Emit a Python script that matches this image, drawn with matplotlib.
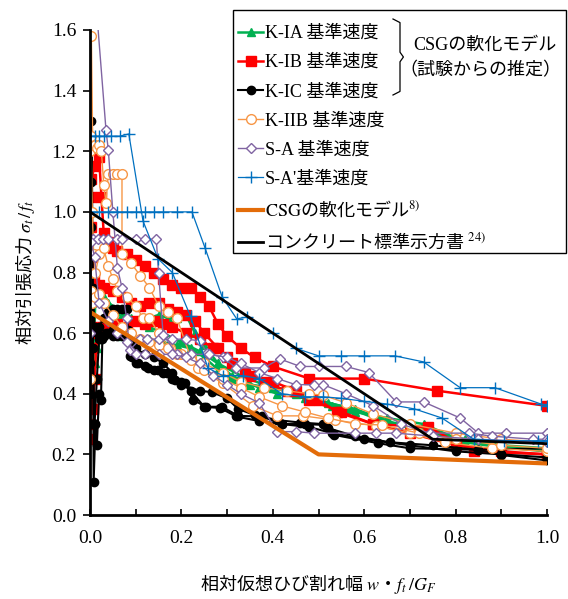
import matplotlib
matplotlib.use("Agg")
import matplotlib.pyplot as plt
from matplotlib.lines import Line2D
from matplotlib.patches import Rectangle
from matplotlib.ticker import MultipleLocator, FormatStrFormatter

plt.rcParams['font.family'] = ['Liberation Serif', 'Noto Sans CJK JP']
plt.rcParams['mathtext.fontset'] = 'stix'
JP = 'Noto Sans CJK JP'

# ---- 試験結果（相対仮想ひび割れ幅, 相対引張応力） ----
kia_x = [
    [0, 0.002, 0.004, 0.006, 0.01, 0.02, 0.03, 0.05, 0.07, 0.09, 0.11, 0.13, 0.15, 0.17, 0.19, 0.21,
     0.23, 0.25, 0.28, 0.31, 0.34, 0.37, 0.41, 0.47, 0.53, 0.58, 0.65, 0.73, 0.82, 0.89, 1.0],
    [0, 0.003, 0.006, 0.01, 0.015, 0.02, 0.03, 0.05, 0.07, 0.09, 0.11, 0.13, 0.16, 0.19, 0.22, 0.25,
     0.28, 0.31, 0.35, 0.40, 0.45, 0.52, 0.58, 0.65, 0.73, 0.82, 0.90, 1.0],
    [0, 0.002, 0.005, 0.008, 0.012, 0.02, 0.03, 0.04, 0.06, 0.08, 0.10, 0.13, 0.16, 0.20, 0.24, 0.28,
     0.33, 0.38, 0.44, 0.50, 0.57, 0.64, 0.72, 0.80, 0.90, 1.0],
]
kia_y = [
    [0.25, 1.25, 0.95, 0.60, 0.57, 0.62, 0.64, 0.66, 0.66, 0.65, 0.65, 0.65, 0.66, 0.65, 0.65, 0.66,
     0.60, 0.56, 0.50, 0.46, 0.44, 0.42, 0.40, 0.385, 0.36, 0.34, 0.32, 0.30, 0.24, 0.225, 0.21],
    [0.30, 0.85, 0.60, 0.50, 0.55, 0.58, 0.60, 0.60, 0.59, 0.58, 0.58, 0.58, 0.57, 0.56, 0.55, 0.52,
     0.48, 0.45, 0.43, 0.42, 0.40, 0.37, 0.35, 0.31, 0.28, 0.25, 0.23, 0.22],
    [0.35, 1.00, 0.75, 0.55, 0.72, 0.74, 0.72, 0.70, 0.68, 0.66, 0.64, 0.62, 0.60, 0.57, 0.54, 0.50,
     0.46, 0.43, 0.41, 0.38, 0.35, 0.31, 0.28, 0.25, 0.23, 0.21],
]

kib_x = [
    [0, 0.003, 0.01, 0.02, 0.025, 0.03, 0.04, 0.05, 0.06, 0.08, 0.10, 0.12, 0.14, 0.16, 0.18, 0.20,
     0.22, 0.24, 0.26, 0.28, 0.30, 0.33, 0.36, 0.40, 0.48, 0.60, 0.76, 1.0],
    [0, 0.002, 0.005, 0.008, 0.012, 0.02, 0.03, 0.05, 0.07, 0.09, 0.11, 0.13, 0.15, 0.17, 0.19, 0.21,
     0.23, 0.25, 0.28, 0.31, 0.35, 0.40, 0.45, 0.50, 0.54, 0.62, 0.74, 0.84, 1.0],
    [0, 0.002, 0.004, 0.006, 0.01, 0.015, 0.02, 0.03, 0.04, 0.06, 0.08, 0.10, 0.12, 0.14, 0.16, 0.18,
     0.21, 0.24, 0.27, 0.30, 0.34, 0.38, 0.43, 0.48, 0.55, 0.62, 0.70, 0.80, 0.90, 1.0],
]
kib_y = [
    [0.45, 1.11, 1.15, 1.18, 1.05, 0.93, 0.90, 0.88, 0.87, 0.86, 0.84, 0.82, 0.80, 0.78, 0.76, 0.75,
     0.75, 0.72, 0.69, 0.63, 0.59, 0.55, 0.52, 0.49, 0.45, 0.45, 0.41, 0.36],
    [0.30, 1.05, 0.85, 0.78, 0.74, 0.76, 0.75, 0.74, 0.72, 0.70, 0.69, 0.70, 0.70, 0.68, 0.67, 0.66,
     0.64, 0.60, 0.55, 0.50, 0.46, 0.44, 0.41, 0.38, 0.34, 0.30, 0.29, 0.21, 0.20],
    [0.25, 0.95, 0.55, 0.35, 0.45, 0.60, 0.62, 0.62, 0.63, 0.63, 0.62, 0.64, 0.63, 0.64, 0.63, 0.62,
     0.60, 0.58, 0.55, 0.52, 0.47, 0.44, 0.41, 0.38, 0.34, 0.30, 0.27, 0.23, 0.21, 0.20],
]

kic_x = [
    [0, 0.002, 0.004, 0.006, 0.008, 0.012, 0.015, 0.02, 0.024, 0.027, 0.035, 0.05, 0.07, 0.085, 0.092,
     0.105, 0.127, 0.149, 0.168, 0.186, 0.208, 0.225, 0.254, 0.289, 0.324, 0.376, 0.42, 0.47, 0.514,
     0.535, 0.63, 0.70, 0.85, 0.90, 1.0],
    [0, 0.003, 0.006, 0.01, 0.015, 0.02, 0.03, 0.04, 0.05, 0.06, 0.07, 0.08, 0.083, 0.087, 0.10, 0.12,
     0.14, 0.16, 0.18, 0.20, 0.24, 0.267, 0.30, 0.324, 0.36, 0.41, 0.46, 0.51, 0.52, 0.58, 0.656, 0.75,
     0.85, 1.0],
    [0, 0.003, 0.006, 0.01, 0.015, 0.02, 0.03, 0.04, 0.05, 0.06, 0.07, 0.08, 0.09, 0.10, 0.12, 0.14,
     0.16, 0.18, 0.20, 0.22, 0.25, 0.285, 0.32, 0.37, 0.42, 0.48, 0.53, 0.60, 0.70, 0.80, 0.90, 1.0],
]
kic_y = [
    [0.50, 1.30, 1.22, 0.70, 0.11, 0.30, 0.23, 0.40, 0.38, 0.58, 0.60, 0.61, 0.60, 0.58, 0.52,
     0.50, 0.485, 0.48, 0.47, 0.445, 0.436, 0.38, 0.357, 0.357, 0.327, 0.325, 0.30, 0.30, 0.297,
     0.264, 0.237, 0.22, 0.215, 0.198, 0.18],
    [0.40, 1.10, 0.75, 0.62, 0.60, 0.62, 0.65, 0.67, 0.68, 0.68, 0.68, 0.68, 0.61, 0.525, 0.50, 0.49,
     0.48, 0.47, 0.45, 0.43, 0.41, 0.405, 0.385, 0.35, 0.33, 0.313, 0.305, 0.30, 0.287, 0.26, 0.24, 0.23,
     0.215, 0.22],
    [0.30, 0.95, 0.55, 0.30, 0.45, 0.58, 0.59, 0.60, 0.59, 0.59, 0.59, 0.58, 0.57, 0.55, 0.53, 0.52,
     0.50, 0.47, 0.44, 0.41, 0.357, 0.353, 0.325, 0.31, 0.30, 0.29, 0.27, 0.25, 0.23, 0.21, 0.20, 0.19],
]

kiib_x = [
    [0, 0.003, 0.006, 0.01, 0.015, 0.02, 0.025, 0.03, 0.035, 0.04, 0.05, 0.06, 0.07, 0.07, 0.09, 0.11,
     0.13, 0.15, 0.17, 0.19, 0.22, 0.236, 0.29, 0.357, 0.41, 0.466, 0.536, 0.626, 0.70, 0.777, 0.88, 1.0],
    [0, 0.002, 0.005, 0.008, 0.012, 0.02, 0.03, 0.04, 0.05, 0.06, 0.08, 0.10, 0.116, 0.13, 0.15, 0.175,
     0.20, 0.22, 0.25, 0.29, 0.33, 0.38, 0.43, 0.48, 0.51, 0.56, 0.62, 0.70, 0.80, 0.90, 1.0],
    [0, 0.002, 0.005, 0.01, 0.02, 0.03, 0.05, 0.07, 0.09, 0.11, 0.13, 0.15, 0.17, 0.19, 0.22, 0.25,
     0.29, 0.33, 0.37, 0.42, 0.47, 0.52, 0.58, 0.64, 0.72, 0.80, 0.90, 1.0],
]
kiib_y = [
    [1.20, 1.58, 1.22, 1.22, 1.21, 1.22, 1.20, 1.09, 1.03, 1.125, 1.125, 1.125, 1.125, 0.86, 0.83, 0.79,
     0.75, 0.69, 0.67, 0.65, 0.52, 0.485, 0.435, 0.36, 0.327, 0.327, 0.313, 0.294, 0.27, 0.24, 0.22, 0.21],
    [0.80, 1.25, 1.00, 0.86, 0.80, 0.86, 0.88, 0.82, 0.78, 0.74, 0.72, 0.69, 0.65, 0.65, 0.60, 0.55,
     0.53, 0.52, 0.50, 0.47, 0.44, 0.42, 0.41, 0.40, 0.395, 0.37, 0.333, 0.30, 0.27, 0.25, 0.24],
    [0.45, 0.74, 0.70, 0.72, 0.73, 0.70, 0.66, 0.62, 0.60, 0.58, 0.57, 0.56, 0.55, 0.53, 0.51, 0.48,
     0.45, 0.42, 0.39, 0.36, 0.34, 0.32, 0.30, 0.297, 0.27, 0.25, 0.23, 0.22],
]

sa_x = [
    [0.010, 0.035, 0.04, 0.05, 0.06, 0.07, 0.08, 0.087, 0.11, 0.125, 0.15, 0.18, 0.21, 0.24, 0.256,
     0.29, 0.32, 0.38, 0.415, 0.46, 0.50, 0.56, 0.61, 0.67, 0.73, 0.81, 0.85, 0.91, 1.0],
    [0, 0.007, 0.018, 0.028, 0.04, 0.06, 0.07, 0.10, 0.12, 0.145, 0.15, 0.16, 0.19, 0.22, 0.26, 0.30,
     0.33, 0.37, 0.41, 0.45, 0.49, 0.51, 0.56, 0.62, 0.68, 0.744, 0.83, 0.88, 0.97, 1.0],
    [0, 0.003, 0.01, 0.02, 0.04, 0.06, 0.08, 0.10, 0.12, 0.15, 0.18, 0.21, 0.24, 0.27, 0.30, 0.33,
     0.37, 0.41, 0.45, 0.49, 0.58, 0.626, 0.67, 0.75, 0.85, 1.0],
]
sa_y = [
    [1.75, 1.27, 1.205, 1.00, 0.815, 0.75, 0.65, 0.545, 0.58, 0.58, 0.58, 0.58, 0.58, 0.575, 0.535,
     0.52, 0.485, 0.485, 0.515, 0.49, 0.49, 0.49, 0.47, 0.373, 0.373, 0.32, 0.27, 0.27, 0.27],
    [0.91, 0.91, 0.91, 0.91, 0.91, 0.91, 0.91, 0.91, 0.91, 0.91, 0.80, 0.595, 0.53, 0.53, 0.53, 0.52,
     0.50, 0.47, 0.45, 0.43, 0.43, 0.43, 0.40, 0.36, 0.30, 0.27, 0.27, 0.26, 0.25, 0.25],
    [0.60, 0.90, 0.85, 0.70, 0.64, 0.60, 0.57, 0.53, 0.53, 0.53, 0.53, 0.52, 0.50, 0.46, 0.43, 0.40,
     0.37, 0.275, 0.275, 0.27, 0.27, 0.27, 0.27, 0.26, 0.25, 0.24],
]

sa2_x = [
    [0, 0.02, 0.04, 0.06, 0.08, 0.10, 0.12, 0.14, 0.16, 0.19, 0.223, 0.252, 0.289, 0.321, 0.343, 0.40,
     0.45, 0.50, 0.55, 0.60, 0.667, 0.73, 0.81, 0.886, 0.987, 1.0],
    [0, 0.01, 0.02, 0.03, 0.045, 0.065, 0.085, 0.116, 0.149, 0.18, 0.22, 0.258, 0.29, 0.335, 0.37, 0.42,
     0.47, 0.51, 0.55, 0.60, 0.65, 0.71, 0.77, 0.84, 0.906, 0.98, 1.0],
]
sa2_y = [
    [1.0, 1.0, 1.0, 1.0, 1.0, 1.0, 1.0, 1.0, 1.0, 1.0, 1.0, 0.88, 0.72, 0.647, 0.653, 0.60,
     0.55, 0.525, 0.525, 0.525, 0.525, 0.505, 0.42, 0.42, 0.366, 0.36],
    [1.25, 1.25, 1.25, 1.25, 1.25, 1.25, 1.257, 0.97, 0.845, 0.80, 0.655, 0.485, 0.46, 0.46, 0.45, 0.40,
     0.39, 0.39, 0.385, 0.375, 0.366, 0.35, 0.32, 0.25, 0.245, 0.245, 0.245],
]

# ---- 軟化モデル ----
csg_x = [0.0, 0.5, 1.0]
csg_y = [0.67, 0.20, 0.17]
jsce_x = [0.0, 0.75, 5.0]
jsce_y = [1.0, 0.25, 0.0]

fig = plt.figure(figsize=(5.68, 5.99), dpi=100)
ax = fig.add_axes([90 / 568, 84 / 599, 457 / 568, 485 / 599])

styles = [
    (kia_x, kia_y, dict(color='#00B050', marker='^', ms=6, lw=1.8, mfc='#00B050', mec='#00B050'),
     'K-IA 基準速度'),
    (kib_x, kib_y, dict(color='#FF0000', marker='s', ms=7, lw=1.8, mfc='#FF0000', mec='#FF0000'),
     'K-IB 基準速度'),
    (kic_x, kic_y, dict(color='black', marker='o', ms=6, lw=1.5, mfc='black', mec='black'),
     'K-IC 基準速度'),
    (kiib_x, kiib_y, dict(color='#F79646', marker='o', ms=7, lw=1.0, mfc='white', mec='#F79646',
                         mew=1.0), 'K-IIB 基準速度'),
    (sa_x, sa_y, dict(color='#8064A2', marker='D', ms=5.5, lw=1.0, mfc='white', mec='#8064A2', mew=1.0),
     'S-A 基準速度'),
    (sa2_x, sa2_y, dict(color='#0070C0', marker='+', ms=8, lw=0.9, mew=1.0), "S-A'基準速度"),
]

handles = []
labels = []
for xs, ys, kw, lab in styles:
    for x, y in zip(xs, ys):
        ax.plot(x, y, **kw)
    handles.append(Line2D([], [], **kw))
    labels.append(lab)

ax.plot(csg_x, csg_y, color='#E36C09', lw=3.0)
ax.plot(jsce_x, jsce_y, color='black', lw=2.0)
handles.append(Line2D([], [], color='#E36C09', lw=3.0))
labels.append('$\\mathrm{CSG}$の軟化モデル$^{8)}$')
handles.append(Line2D([], [], color='black', lw=2.0))
labels.append('コンクリート標準示方書 $^{24)}$')

ax.set_xlim(0, 1.0)
ax.set_ylim(0, 1.6)
ax.xaxis.set_major_locator(MultipleLocator(0.2))
ax.xaxis.set_minor_locator(MultipleLocator(0.1))
ax.yaxis.set_major_locator(MultipleLocator(0.2))
ax.xaxis.set_major_formatter(FormatStrFormatter('%.1f'))
ax.yaxis.set_major_formatter(FormatStrFormatter('%.1f'))
ax.tick_params(axis='x', which='both', direction='in', length=4, width=1.2, labelsize=14, pad=11)
ax.tick_params(axis='y', direction='out', length=5, width=1.2, labelsize=14, pad=5)
for side in ['top', 'right']:
    ax.spines[side].set_visible(False)
for side in ['left', 'bottom']:
    ax.spines[side].set_linewidth(2.0)

ax.set_xlabel('相対仮想ひび割れ幅 $w$・$f_t\\,/G_F$', fontsize=13, family=JP)
ax.xaxis.set_label_coords(0.5, -0.12)
ax.set_ylabel('相対引張応力 $\\sigma_t\\,/\\,f_t$', fontsize=13, family=JP)
ax.yaxis.set_label_coords(-0.115, 0.5)

# 凡例（枠は図座標で描く）
fig.patches.append(Rectangle((233 / 568, 1 - 253 / 599), 333 / 568, 243 / 599,
                             transform=fig.transFigure, fill=True, facecolor='white',
                             edgecolor='black', lw=1.0, zorder=5))
leg = fig.legend(handles, labels, loc='upper left', bbox_to_anchor=(238 / 568, 1 - 25 / 599),
                 frameon=False, fontsize=13, handlelength=1.4, handletextpad=0.1,
                 labelspacing=0.67, borderaxespad=0, borderpad=0)
leg.set_zorder(6)
for t in leg.get_texts():
    if '$' in t.get_text():
        t.set_fontfamily(JP)

# 中括弧と注記
bx0, bx1 = 393 / 568, 400 / 568
by_top, by_mid, by_bot = 1 - 19 / 599, 1 - 57 / 599, 1 - 95 / 599
fig.lines.append(Line2D([bx0, bx1, bx1, bx1 + 0.006, bx1, bx1, bx0],
                        [by_top, by_top - 0.006, by_mid + 0.008, by_mid, by_mid - 0.008,
                         by_bot + 0.006, by_bot], transform=fig.transFigure, color='black',
                        lw=0.9, zorder=7))
fig.text(485 / 568, 1 - 45 / 599, 'CSGの軟化モデル', fontsize=13, ha='center', va='center', zorder=7)
fig.text(480 / 568, 1 - 71 / 599, '（試験からの推定）', fontsize=13, ha='center', va='center', zorder=7)

fig.savefig('out.png', dpi=100)
